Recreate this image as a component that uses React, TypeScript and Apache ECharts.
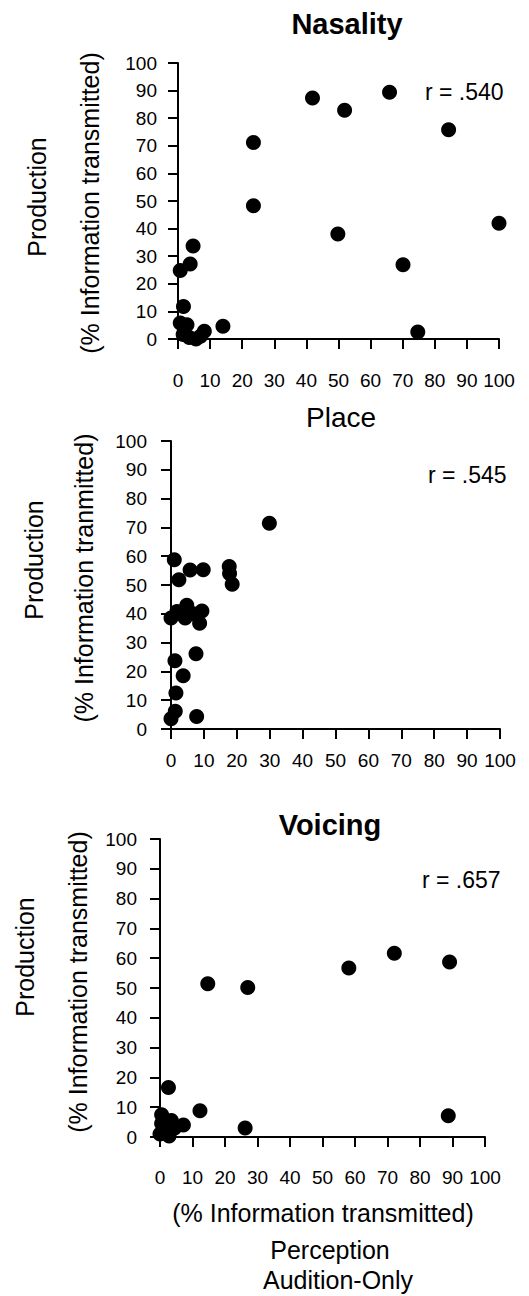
import React, { useEffect, useRef } from "react";
import * as echarts from "echarts";

// Perception (x) vs Production (y), % information transmitted
const nasalityPoints: number[][] = [
  [41.9, 87.3], [51.9, 82.9], [65.9, 89.4], [84.3, 75.8], [23.5, 71.2],
  [23.5, 48.3], [49.8, 38.0], [100, 41.9], [70.1, 26.9], [74.7, 2.5],
  [4.7, 33.7], [3.8, 27.2], [0.7, 24.8], [1.7, 11.8], [0.7, 5.8],
  [2.8, 5.2], [1.6, 1.6], [5.6, 0.0], [8.2, 2.8], [14.0, 4.6],
  [3.5, 0.5], [7.0, 1.0],
];

const placePoints: number[][] = [
  [29.9, 71.4], [1.0, 58.8], [2.4, 51.8], [5.8, 55.2], [9.8, 55.3],
  [17.7, 56.4], [17.8, 54.0], [18.6, 50.3], [0.0, 38.5], [1.8, 40.8],
  [4.8, 43.0], [4.3, 38.5], [6.8, 40.0], [9.4, 41.0], [8.7, 36.7],
  [7.6, 26.1], [1.2, 23.7], [3.7, 18.5], [1.5, 12.5], [1.3, 6.2],
  [0.0, 3.6], [7.8, 4.3],
];

const voicingPoints: number[][] = [
  [14.7, 51.4], [27.0, 50.2], [58.1, 56.7], [72.1, 61.7], [89.1, 58.7],
  [2.6, 16.6], [12.3, 8.8], [88.7, 7.1], [26.2, 3.0], [0.5, 7.5],
  [0.5, 4.5], [0.0, 1.0], [1.5, 3.5], [2.8, 0.3], [3.5, 5.5],
  [4.5, 3.0], [7.2, 4.0],
];

const panelTitles = ["Nasality", "Place", "Voicing"];
const correlations = ["r = .540", "r = .545", "r = .657"];
const yNames = [
  "(% Information transmitted)",
  "(% Information tranmitted)",
  "(% Information transmitted)",
];

const FONT = "'Liberation Sans', Arial, Helvetica, sans-serif";

export default function App() {
  const ref = useRef<HTMLDivElement>(null);

  useEffect(() => {
    if (!ref.current) return;
    const chart = echarts.init(ref.current, null, { renderer: "svg" });

    const grids = [
      { left: 178, top: 63, width: 321, height: 276 },
      { left: 171, top: 441, width: 329, height: 288 },
      { left: 160, top: 839, width: 325, height: 298 },
    ];
    const xMargins = [32, 22, 31];
    const yMargins = [21, 24, 23];
    const allData = [nasalityPoints, placePoints, voicingPoints];

    const axisLine = { show: true, onZero: false, lineStyle: { color: "#000", width: 2 } };
    const axisTick = { show: true, inside: false, length: 10, lineStyle: { color: "#000", width: 2 } };

    const xAxis = grids.map((_, i) => ({
      type: "value",
      gridIndex: i,
      min: 0,
      max: 100,
      interval: 10,
      axisLine,
      axisTick,
      splitLine: { show: false },
      axisLabel: { color: "#000", fontSize: 19, fontFamily: FONT, margin: xMargins[i] },
    }));
    const yAxis = grids.map((_, i) => ({
      type: "value",
      gridIndex: i,
      min: 0,
      max: 100,
      interval: 10,
      axisLine,
      axisTick,
      splitLine: { show: false },
      axisLabel: { color: "#000", fontSize: 19, fontFamily: FONT, margin: yMargins[i] },
    }));

    const series = allData.map((d, i) => ({
      type: "scatter",
      xAxisIndex: i,
      yAxisIndex: i,
      data: d,
      symbol: "circle",
      symbolSize: 15,
      itemStyle: { color: "#000", opacity: 1 },
    }));

    const txt = (x: number, y: number, text: string, size: number, opts: any = {}) => ({
      type: "text",
      x,
      y,
      rotation: opts.rotation || 0,
      style: {
        text,
        fill: "#000",
        fontSize: size,
        fontWeight: opts.bold ? "bold" : "normal",
        fontFamily: FONT,
        textAlign: opts.align || "center",
        textVerticalAlign: "middle",
      },
    });

    const titlePos = [
      [347, 24],
      [341, 417],
      [330, 825],
    ];
    const rPos = [
      [425, 92],
      [428, 475],
      [422, 880],
    ];
    const prodPos = [
      [37, 197],
      [34, 560],
      [25, 957],
    ];
    const namePos = [
      [90, 203],
      [84, 578],
      [78, 982],
    ];

    const graphic: any[] = [];
    for (let i = 0; i < 3; i++) {
      graphic.push(txt(titlePos[i][0], titlePos[i][1], panelTitles[i], i === 1 ? 28 : 29, { bold: i !== 1 }));
      graphic.push(txt(rPos[i][0], rPos[i][1], correlations[i], 23, { align: "left" }));
      graphic.push(txt(prodPos[i][0], prodPos[i][1], "Production", 25, { rotation: Math.PI / 2 }));
      graphic.push(txt(namePos[i][0], namePos[i][1], yNames[i], 25, { rotation: Math.PI / 2 }));
    }
    graphic.push(txt(323, 1213, "(% Information transmitted)", 25));
    graphic.push(txt(330, 1250, "Perception", 25));
    graphic.push(txt(338, 1280, "Audition-Only", 25));

    chart.setOption({
      animation: false,
      backgroundColor: "#fff",
      grid: grids,
      xAxis,
      yAxis,
      series,
      graphic,
    });

    return () => chart.dispose();
  }, []);

  return (
    <div
      ref={ref}
      style={{ position: "absolute", left: 0, top: 0, width: 529, height: 1296, background: "#fff" }}
    />
  );
}
